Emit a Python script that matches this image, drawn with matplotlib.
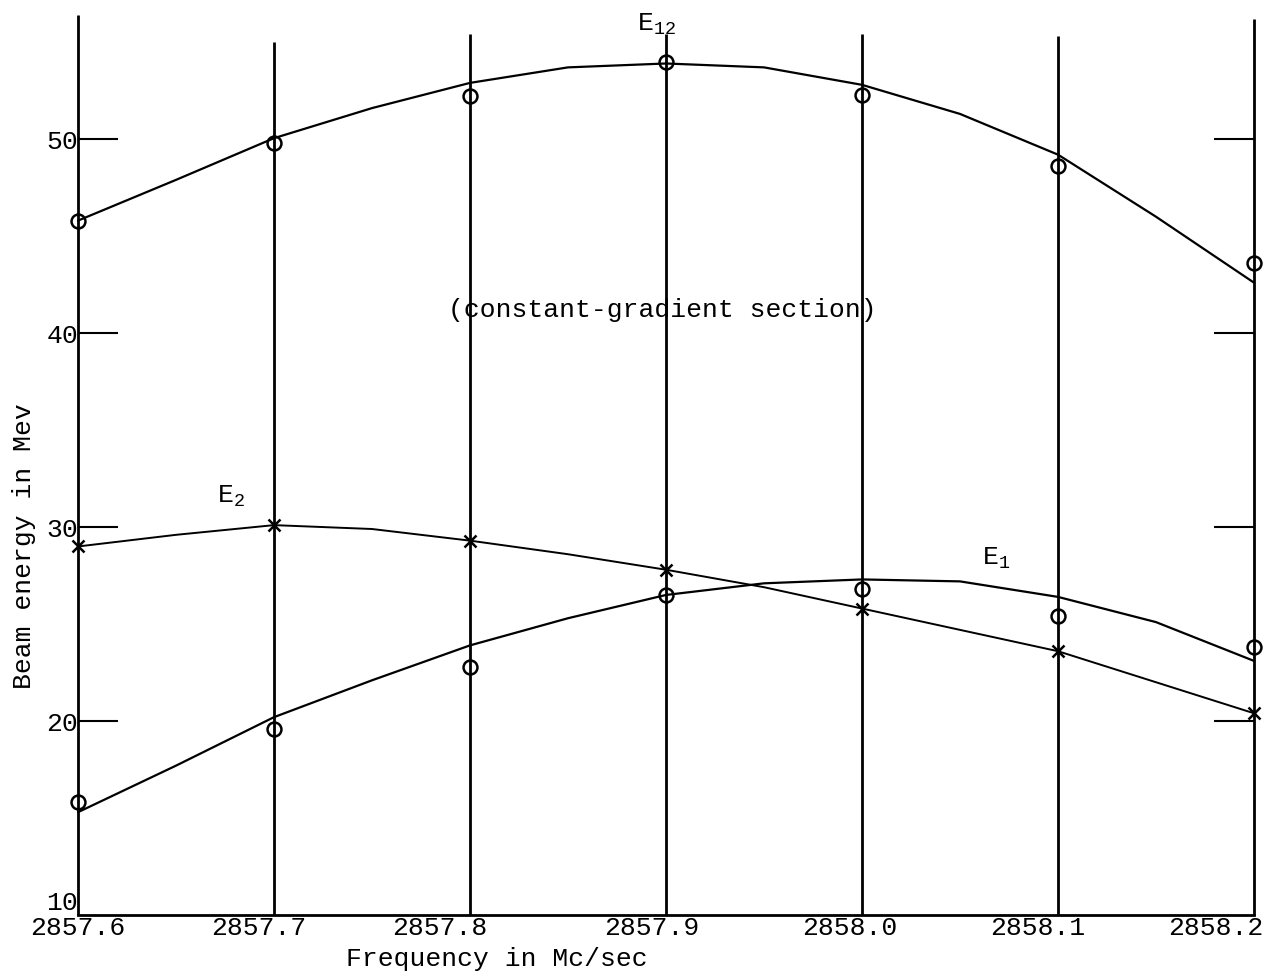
"""Beam energy vs. frequency for the constant-gradient section (E12, E2, E1)."""
import matplotlib
matplotlib.use("Agg")
import matplotlib.pyplot as plt
from matplotlib.transforms import ScaledTranslation

plt.rcParams["font.family"] = ["Liberation Mono", "DejaVu Sans Mono"]

# measured points, one per grid frequency
freq = [2857.6, 2857.7, 2857.8, 2857.9, 2858.0, 2858.1, 2858.2]
freq_labels = ["2857.6", "2857.7", "2857.8", "2857.9", "2858.0", "2858.1", "2858.2"]
e12_pts = [45.8, 49.8, 52.2, 54.0, 52.3, 48.6, 43.6]
e2_pts = [29.0, 30.1, 29.3, 27.8, 25.8, 23.6, 20.4]
e1_pts = [15.8, 19.6, 22.8, 26.5, 26.8, 25.4, 23.8]

curve_freq = [2857.6, 2857.65, 2857.7, 2857.75, 2857.8, 2857.85, 2857.9,
              2857.95, 2858.0, 2858.05, 2858.1, 2858.15, 2858.2]
e12_curve = [45.8, 47.9, 50.05, 51.6, 52.9, 53.7, 53.9, 53.7, 52.8, 51.3, 49.2, 46.0, 42.6]
e2_curve = [29.0, 29.6, 30.1, 29.9, 29.3, 28.6, 27.8, 26.9, 25.8, 24.7, 23.6, 22.0, 20.4]
e1_curve = [15.3, 17.7, 20.2, 22.1, 23.9, 25.3, 26.5, 27.1, 27.3, 27.2, 26.4, 25.1, 23.1]

# how far up each ruled vertical line was drawn
grid_tops = [56.4, 55.0, 55.4, 55.4, 55.4, 55.3, 56.2]

y_ticks = [10, 20, 30, 40, 50]
y_labels = ["10", "20", "30", "40", "50"]

FS = 19

fig = plt.figure(figsize=(12.74, 9.72), dpi=100)
ax = fig.add_axes([78 / 1274, 57 / 972, 1176 / 1274, 900 / 972])
ax.set_xlim(2857.6, 2858.2)
ax.set_ylim(10, 56.4)

for side in ["left", "right", "top"]:
    ax.spines[side].set_visible(False)
ax.spines["bottom"].set_linewidth(2.0)

ax.vlines(freq, 10, grid_tops, color="black", lw=2.0, clip_on=False)

line_kw = dict(color="black", solid_joinstyle="round", solid_capstyle="round", clip_on=False)
ax.plot(curve_freq, e12_curve, lw=1.6, **line_kw)
ax.plot(curve_freq, e2_curve, lw=1.4, **line_kw)
ax.plot(curve_freq, e1_curve, lw=1.6, **line_kw)

ax.plot(freq, e12_pts, ls="none", marker="o", ms=10, mfc="none", mec="black", mew=1.8, clip_on=False)
ax.plot(freq, e1_pts, ls="none", marker="o", ms=10, mfc="none", mec="black", mew=1.8, clip_on=False)
ax.plot(freq, e2_pts, ls="none", marker="x", ms=9, mec="black", mew=1.8, clip_on=False)

ax.set_yticks(y_ticks)
ax.set_yticklabels(y_labels, fontsize=FS)
ax.tick_params(axis="y", direction="in", length=28.8, width=1.5, pad=0,
               left=True, right=True, labelleft=True, labelright=False)
first = ax.yaxis.get_major_ticks()[0]
first.tick1line.set_visible(False)
first.tick2line.set_visible(False)
first.label1.set_transform(first.label1.get_transform()
                           + ScaledTranslation(0, 0.15, fig.dpi_scale_trans))

ax.set_xticks(freq)
ax.set_xticklabels(freq_labels, fontsize=FS)
ax.tick_params(axis="x", length=0, pad=1)
shifts = [0, -15, -30, -14, -12, -20, -38]
for lab, dx in zip(ax.get_xticklabels(), shifts):
    lab.set_transform(lab.get_transform() + ScaledTranslation(dx / 100, 0, fig.dpi_scale_trans))

ax.set_xlabel("Frequency in Mc/sec", fontsize=FS)
ax.xaxis.set_label_coords(0.356, -0.036)
ax.set_ylabel("Beam energy in Mev", fontsize=FS)
ax.yaxis.set_label_coords(-0.036, 0.41)

ax.text(2857.885, 55.9, r"$\mathregular{E_{12}}$", fontsize=FS, ha="left", va="center", clip_on=False)
ax.text(2857.671, 31.6, r"$\mathregular{E_{2}}$", fontsize=FS, ha="left", va="center")
ax.text(2858.061, 28.4, r"$\mathregular{E_{1}}$", fontsize=FS, ha="left", va="center")
ax.text(2857.898, 41.2, "(constant-gradient section)", fontsize=FS, ha="center", va="center")

fig.savefig("out.png", dpi=100)
